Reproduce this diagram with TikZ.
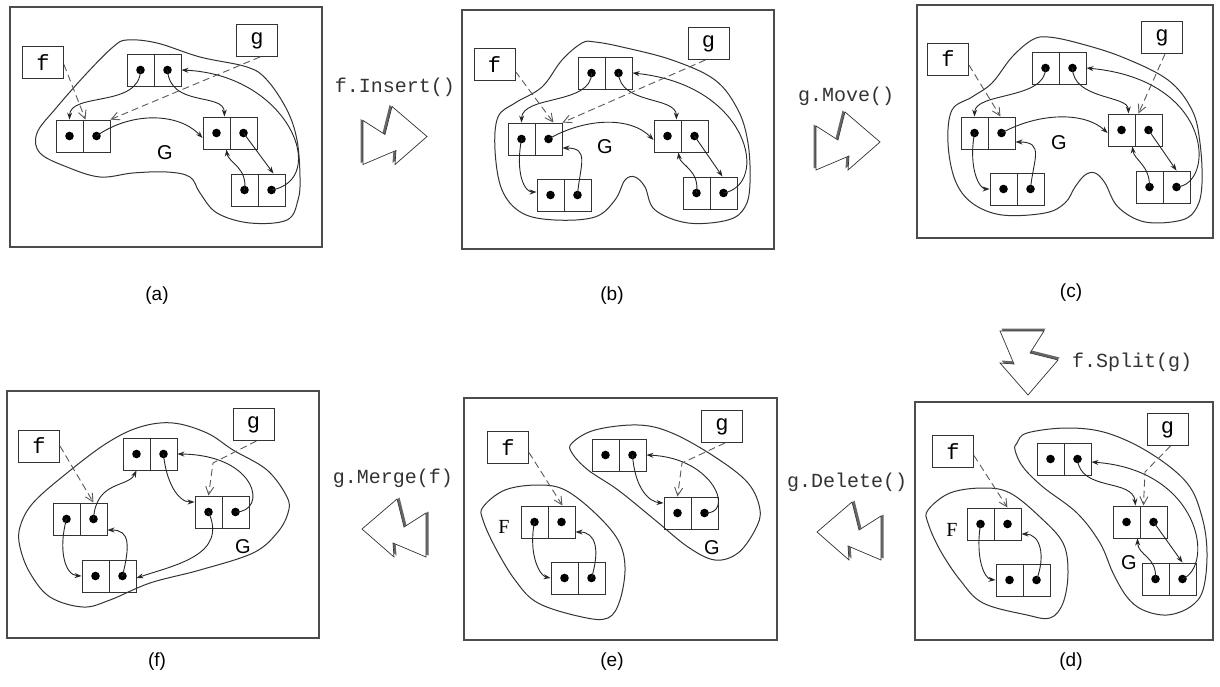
\documentclass[tikz,border=0pt]{standalone}
\usepackage{fontspec}
\setmainfont{Liberation Serif}
\setsansfont{Liberation Sans}
\setmonofont{Liberation Mono}
\usetikzlibrary{arrows.meta}

\tikzset{
 frame/.style={draw=black!70, line width=1.4pt},
 cellbox/.style={draw=black!80, line width=0.9pt, minimum width=27pt, minimum height=32pt, inner sep=0pt},
 varbox/.style={draw=black!80, line width=0.9pt, minimum width=41pt, minimum height=32pt, inner sep=0pt, font=\ttfamily\fontsize{22}{22}\selectfont},
 ptr/.style={draw=black!85, line width=0.9pt, -{Stealth[length=7pt,width=5pt]}},
 ref/.style={draw=black!65, line width=0.9pt, dash pattern=on 7pt off 4pt, -{Straight Barb[length=8pt,width=8pt]}},
 blob/.style={draw=black!80, line width=1pt},
 captext/.style={font=\sffamily\fontsize{19}{19}\selectfont},
 optext/.style={text=black!80, font=\ttfamily\fontsize{20}{20}\selectfont},
 glabel/.style={font=\sffamily\fontsize{20}{20}\selectfont},
 flabel/.style={font=\rmfamily\fontsize{20}{20}\selectfont},
 bolt/.pic={
  \fill[black!60, shift={(-2.5,-1.5)}] (-32,-15) -- (-10,-1) -- (-3,-29) -- (32,1) -- (0,29) -- (1,15) -- (-32,29) -- cycle;
  \draw[black!80, line width=0.7pt, fill=white] (-32,-15) -- (-10,-1) -- (-3,-29) -- (32,1) -- (0,29) -- (1,15) -- (-32,29) -- cycle;
 }
}

\newcommand\cellpair[3]{%
 \node[cellbox] (#1l) at ({#2+13.5},{#3+16}) {};
 \node[cellbox] (#1r) at ({#2+40.5},{#3+16}) {};
 \fill (#1l.center) circle (4.3pt);
 \fill (#1r.center) circle (4.3pt);
}

\begin{document}
\begin{tikzpicture}[x=1pt,y=-1pt]
\useasboundingbox (0,0) rectangle (1220,687);

% ---------------- (a)
\draw[frame] (10,7) rectangle (322,247);
\draw[blob] plot[smooth cycle, tension=0.6] coordinates {(37,133) (57,107) (87,73) (113,47) (127,40) (157,43) (200,57) (247,67) (267,80) (287,110) (297,140) (300,177) (298,200) (287,220) (250,223) (217,213) (200,193) (190,177) (167,172) (133,173) (100,177) (67,167) (40,153)};
\node[varbox] (af) at (43,62.5) {f};
\node[varbox] (ag) at (257,40.5) {g};
\cellpair{aT}{127}{54}
\cellpair{aL}{56}{120}
\cellpair{aR}{203}{117}
\cellpair{aB}{231}{174}
\node[glabel] (aG) at (165,153) {G};
\draw[ptr] (aTl.center) .. controls (140,108) and (70,92) .. (aLl.north);
\draw[ptr] (aTr.center) .. controls (170,108) and (224,92) .. ([xshift=-6pt]aRl.north east);
\draw[ptr] (aLr.center) .. controls (130,112) and (178,112) .. ([yshift=-5pt]aRl.west);
\draw[ptr] (aRr.center) -- ([xshift=2pt]aBr.north);
\draw[ptr] (aBl.center) .. controls (248,168) and (228,162) .. ([xshift=-4pt]aRl.south east);
\draw[ptr] (aBr.center) .. controls (330,180) and (290,75) .. (aTr.east);
\draw[ref] ([yshift=-2pt]af.east) -- ([xshift=2pt]aLl.north east);
\draw[ref] ([xshift=3pt]ag.south) -- (aLr.north east);
\node[captext] (capa) at (157,296) {(a)};

% ---------------- (b)
\draw[frame] (462,10) rectangle (774,249);
\draw[blob] plot[smooth cycle, tension=0.6] coordinates {(498,117) (515,103) (542,87) (562,60) (582,43) (595,42) (622,47) (672,60) (715,80) (738,110) (748,143) (750,183) (745,207) (728,220) (688,223) (655,210) (645,187) (635,177) (625,180) (615,200) (595,217) (555,220) (522,213) (502,190) (495,150)};
\node[varbox] (bf) at (494.5,64.5) {f};
\node[varbox] (bg) at (708.5,43.5) {g};
\cellpair{bT}{578}{57}
\cellpair{bL}{508}{123}
\cellpair{bR}{654}{120}
\cellpair{bBL}{537}{179}
\cellpair{bBR}{683}{177}
\node[glabel] (bG) at (605,147) {G};
\draw[ptr] (bTl.center) .. controls (592,105) and (522,95) .. (bLl.north);
\draw[ptr] (bTr.center) .. controls (620,105) and (676,96) .. ([xshift=-5pt]bRl.north east);
\draw[ptr] (bLr.center) .. controls (585,118) and (630,116) .. ([yshift=-4pt]bRl.west);
\draw[ptr] (bRr.center) -- ([xshift=-1pt]bBRr.north);
\draw[ptr] (bBRl.center) .. controls (700,170) and (680,165) .. ([xshift=-3pt]bRl.south east);
\draw[ptr] (bBRr.center) .. controls (770,185) and (750,85) .. (bTr.east);
\draw[ptr] (bLl.center) .. controls (515,175) and (525,192) .. ([yshift=3pt]bBLl.west);
\draw[ptr] (bBLr.center) .. controls (580,165) and (590,148) .. ([yshift=-9pt]bLr.east);
\draw[ref] ([yshift=-7pt]bf.east) -- ([xshift=-9pt]bLr.north east);
\draw[ref] ([xshift=-3pt]bg.south) -- (bLr.north east);
\node[captext] (capb) at (612,296) {(b)};

% ---------------- (c)
\draw[frame] (917,5) rectangle (1213,238);
\draw[blob] plot[smooth cycle, tension=0.6] coordinates {(952,110) (972,97) (992,83) (1012,57) (1032,40) (1048,37) (1078,43) (1122,57) (1168,80) (1192,110) (1200,143) (1202,183) (1197,207) (1182,220) (1145,222) (1118,207) (1105,183) (1095,173) (1085,175) (1075,187) (1065,203) (1045,213) (1002,215) (972,203) (955,180) (948,143)};
\node[varbox] (cf) at (948,59) {f};
\node[varbox] (cg) at (1162,37.5) {g};
\cellpair{cT}{1032}{52}
\cellpair{cL}{961}{117}
\cellpair{cR}{1108}{114}
\cellpair{cBL}{990}{173}
\cellpair{cBR}{1136}{171}
\node[glabel] (cG) at (1059,143) {G};
\draw[ptr] (cTl.center) .. controls (1046,100) and (975,92) .. (cLl.north);
\draw[ptr] (cTr.center) .. controls (1073,100) and (1128,95) .. ([xshift=-7pt]cRl.north east);
\draw[ptr] (cLr.center) .. controls (1040,112) and (1085,112) .. ([yshift=-3pt]cRl.west);
\draw[ptr] (cRr.center) -- (cBRr.north);
\draw[ptr] (cBRl.center) .. controls (1150,165) and (1134,160) .. ([xshift=-3pt]cRl.south east);
\draw[ptr] (cBRr.center) .. controls (1215,185) and (1215,80) .. (cTr.east);
\draw[ptr] (cLl.center) .. controls (968,170) and (980,189) .. (cBLl.west);
\draw[ptr] (cBLr.center) .. controls (1033,160) and (1045,142) .. ([yshift=-9pt]cLr.east);
\draw[ref] ([yshift=-6pt]cf.east) -- ([xshift=-15pt]cLr.north east);
\draw[ref] ([xshift=3pt]cg.south) -- ([xshift=3pt]cRl.north east);
\node[captext] (capc) at (1071,293) {(c)};

% ---------------- (f)
\draw[frame] (7,391) rectangle (319,638);
\draw[blob] plot[smooth cycle, tension=0.6] coordinates {(20,527) (33,503) (67,473) (107,443) (140,427) (173,423) (207,433) (233,450) (267,470) (287,497) (288,513) (277,533) (253,553) (200,570) (150,583) (110,600) (83,607) (50,597) (30,573) (20,547)};
\node[varbox] (ff) at (39,446) {f};
\node[varbox] (fg) at (253.5,424.5) {g};
\cellpair{fT}{123}{438}
\cellpair{fL}{53}{503}
\cellpair{fR}{195}{496}
\cellpair{fB}{82}{560}
\node[glabel] (fG) at (243,547) {G};
\draw[ptr] (fLr.center) .. controls (96,480) and (128,488) .. (fTl.south);
\draw[ptr] (fTr.center) .. controls (166,482) and (178,502) .. ([yshift=10pt]fRl.west);
\draw[ptr] (fRr.center) .. controls (268,512) and (258,455) .. (fTr.east);
\draw[ptr] (fRl.center) .. controls (228,555) and (175,565) .. ([yshift=-2pt]fBr.east);
\draw[ptr] (fLl.center) .. controls (58,550) and (65,575) .. (fBl.west);
\draw[ptr] (fBr.center) .. controls (130,545) and (130,530) .. ([yshift=-11pt]fLr.east);
\draw[ref] (ff.east) -- ([xshift=-14pt]fLr.north east);
\draw[ref] ([xshift=3pt]fg.south) -- (213,463) -- (fRl.north);
\node[captext] (capf) at (157,662) {(f)};

% ---------------- (e)
\draw[frame] (464,398) rectangle (777,640);
\draw[blob] plot[smooth cycle, tension=0.6] coordinates {(483,507) (505,490) (538,485) (565,490) (595,513) (618,540) (625,567) (620,600) (608,618) (582,617) (538,603) (515,580) (495,547) (483,520)};
\draw[blob] plot[smooth cycle, tension=0.6] coordinates {(572,443) (595,430) (638,425) (672,433) (715,457) (748,483) (760,510) (755,530) (738,553) (715,560) (688,547) (655,520) (618,490) (588,470) (572,453)};
\node[varbox] (ef) at (508,447.5) {f};
\node[varbox] (eg) at (722,426.5) {g};
\cellpair{eFT}{521}{506}
\cellpair{eFB}{551}{562}
\cellpair{eGT}{592}{439}
\cellpair{eGR}{664}{497}
\node[flabel] (eF) at (504,527) {F};
\node[glabel] (eG) at (712,548) {G};
\draw[ptr] (eFTl.center) .. controls (528,555) and (540,576) .. (eFBl.west);
\draw[ptr] (eFBr.center) .. controls (600,550) and (596,532) .. ([yshift=-10pt]eFTr.east);
\draw[ptr] (eGTr.center) .. controls (635,490) and (650,502) .. ([yshift=10pt]eGRl.west);
\draw[ptr] (eGRr.center) .. controls (735,515) and (715,458) .. (eGTr.east);
\draw[ref] ([yshift=-5pt]ef.east) -- ([xshift=-13pt]eFTr.north east);
\draw[ref] ([xshift=3pt]eg.south) -- (682,463) -- (eGRl.north);
\node[captext] (cape) at (612,662) {(e)};

% ---------------- (d)
\draw[frame] (915,402) rectangle (1213,640);
\draw[blob] plot[smooth cycle, tension=0.6] coordinates {(928,510) (950,493) (983,488) (1010,493) (1040,517) (1063,543) (1068,573) (1063,603) (1050,618) (1027,615) (983,603) (960,580) (940,550) (928,523)};
\draw[blob] plot[smooth cycle, tension=0.6] coordinates {(1017,443) (1027,433) (1067,428) (1107,433) (1150,453) (1187,483) (1202,517) (1207,553) (1203,590) (1190,607) (1167,615) (1143,610) (1127,597) (1113,573) (1100,543) (1077,513) (1043,487) (1023,467) (1015,450)};
\node[varbox] (df) at (953,451.5) {f};
\node[varbox] (dg) at (1167.5,429.5) {g};
\cellpair{dFT}{967}{508}
\cellpair{dFB}{996}{564}
\cellpair{dGT}{1037}{443}
\cellpair{dGM}{1113}{506}
\cellpair{dGB}{1142}{563}
\node[flabel] (dF) at (952,530) {F};
\node[glabel] (dG) at (1129,563) {G};
\draw[ptr] (dGTr.center) .. controls (1080,492) and (1133,478) .. ([xshift=-5pt]dGMl.north east);
\draw[ptr] (dGMr.center) -- (dGBr.north);
\draw[ptr] (dGBl.center) .. controls (1157,556) and (1138,556) .. ([xshift=-3pt]dGMl.south east);
\draw[ptr] (dGBr.center) .. controls (1215,565) and (1200,470) .. ([yshift=-3pt]dGTr.east);
\draw[ptr] (dFTl.center) .. controls (975,560) and (985,579) .. (dFBl.west);
\draw[ptr] (dFBr.center) .. controls (1046,555) and (1040,534) .. ([yshift=-10pt]dFTr.east);
\draw[ref] ([yshift=-4pt]df.east) -- ([xshift=-14pt]dFTr.north east);
\draw[ref] ([xshift=3pt]dg.south) -- (1145,472) -- ([xshift=3pt]dGMl.north east);
\node[captext] (capd) at (1071,662) {(d)};

% ---------------- operations
\node[optext] (opins) at (395,87) {f.Insert()};
\path (395,135.5) pic {bolt};
\node[optext] (opmov) at (846,96) {g.Move()};
\path (848,141) pic {bolt};
\node[optext] (opspl) at (1132,362) {f.Split(g)};
\path (1029,363) pic[rotate=-90] {bolt};
\node[optext] (opmrg) at (393,478) {g.Merge(f)};
\path (394,528) pic[xscale=-1] {bolt};
\node[optext] (opdel) at (847,482) {g.Delete()};
\path (849,531) pic[xscale=-1] {bolt};
\end{tikzpicture}
\end{document}
